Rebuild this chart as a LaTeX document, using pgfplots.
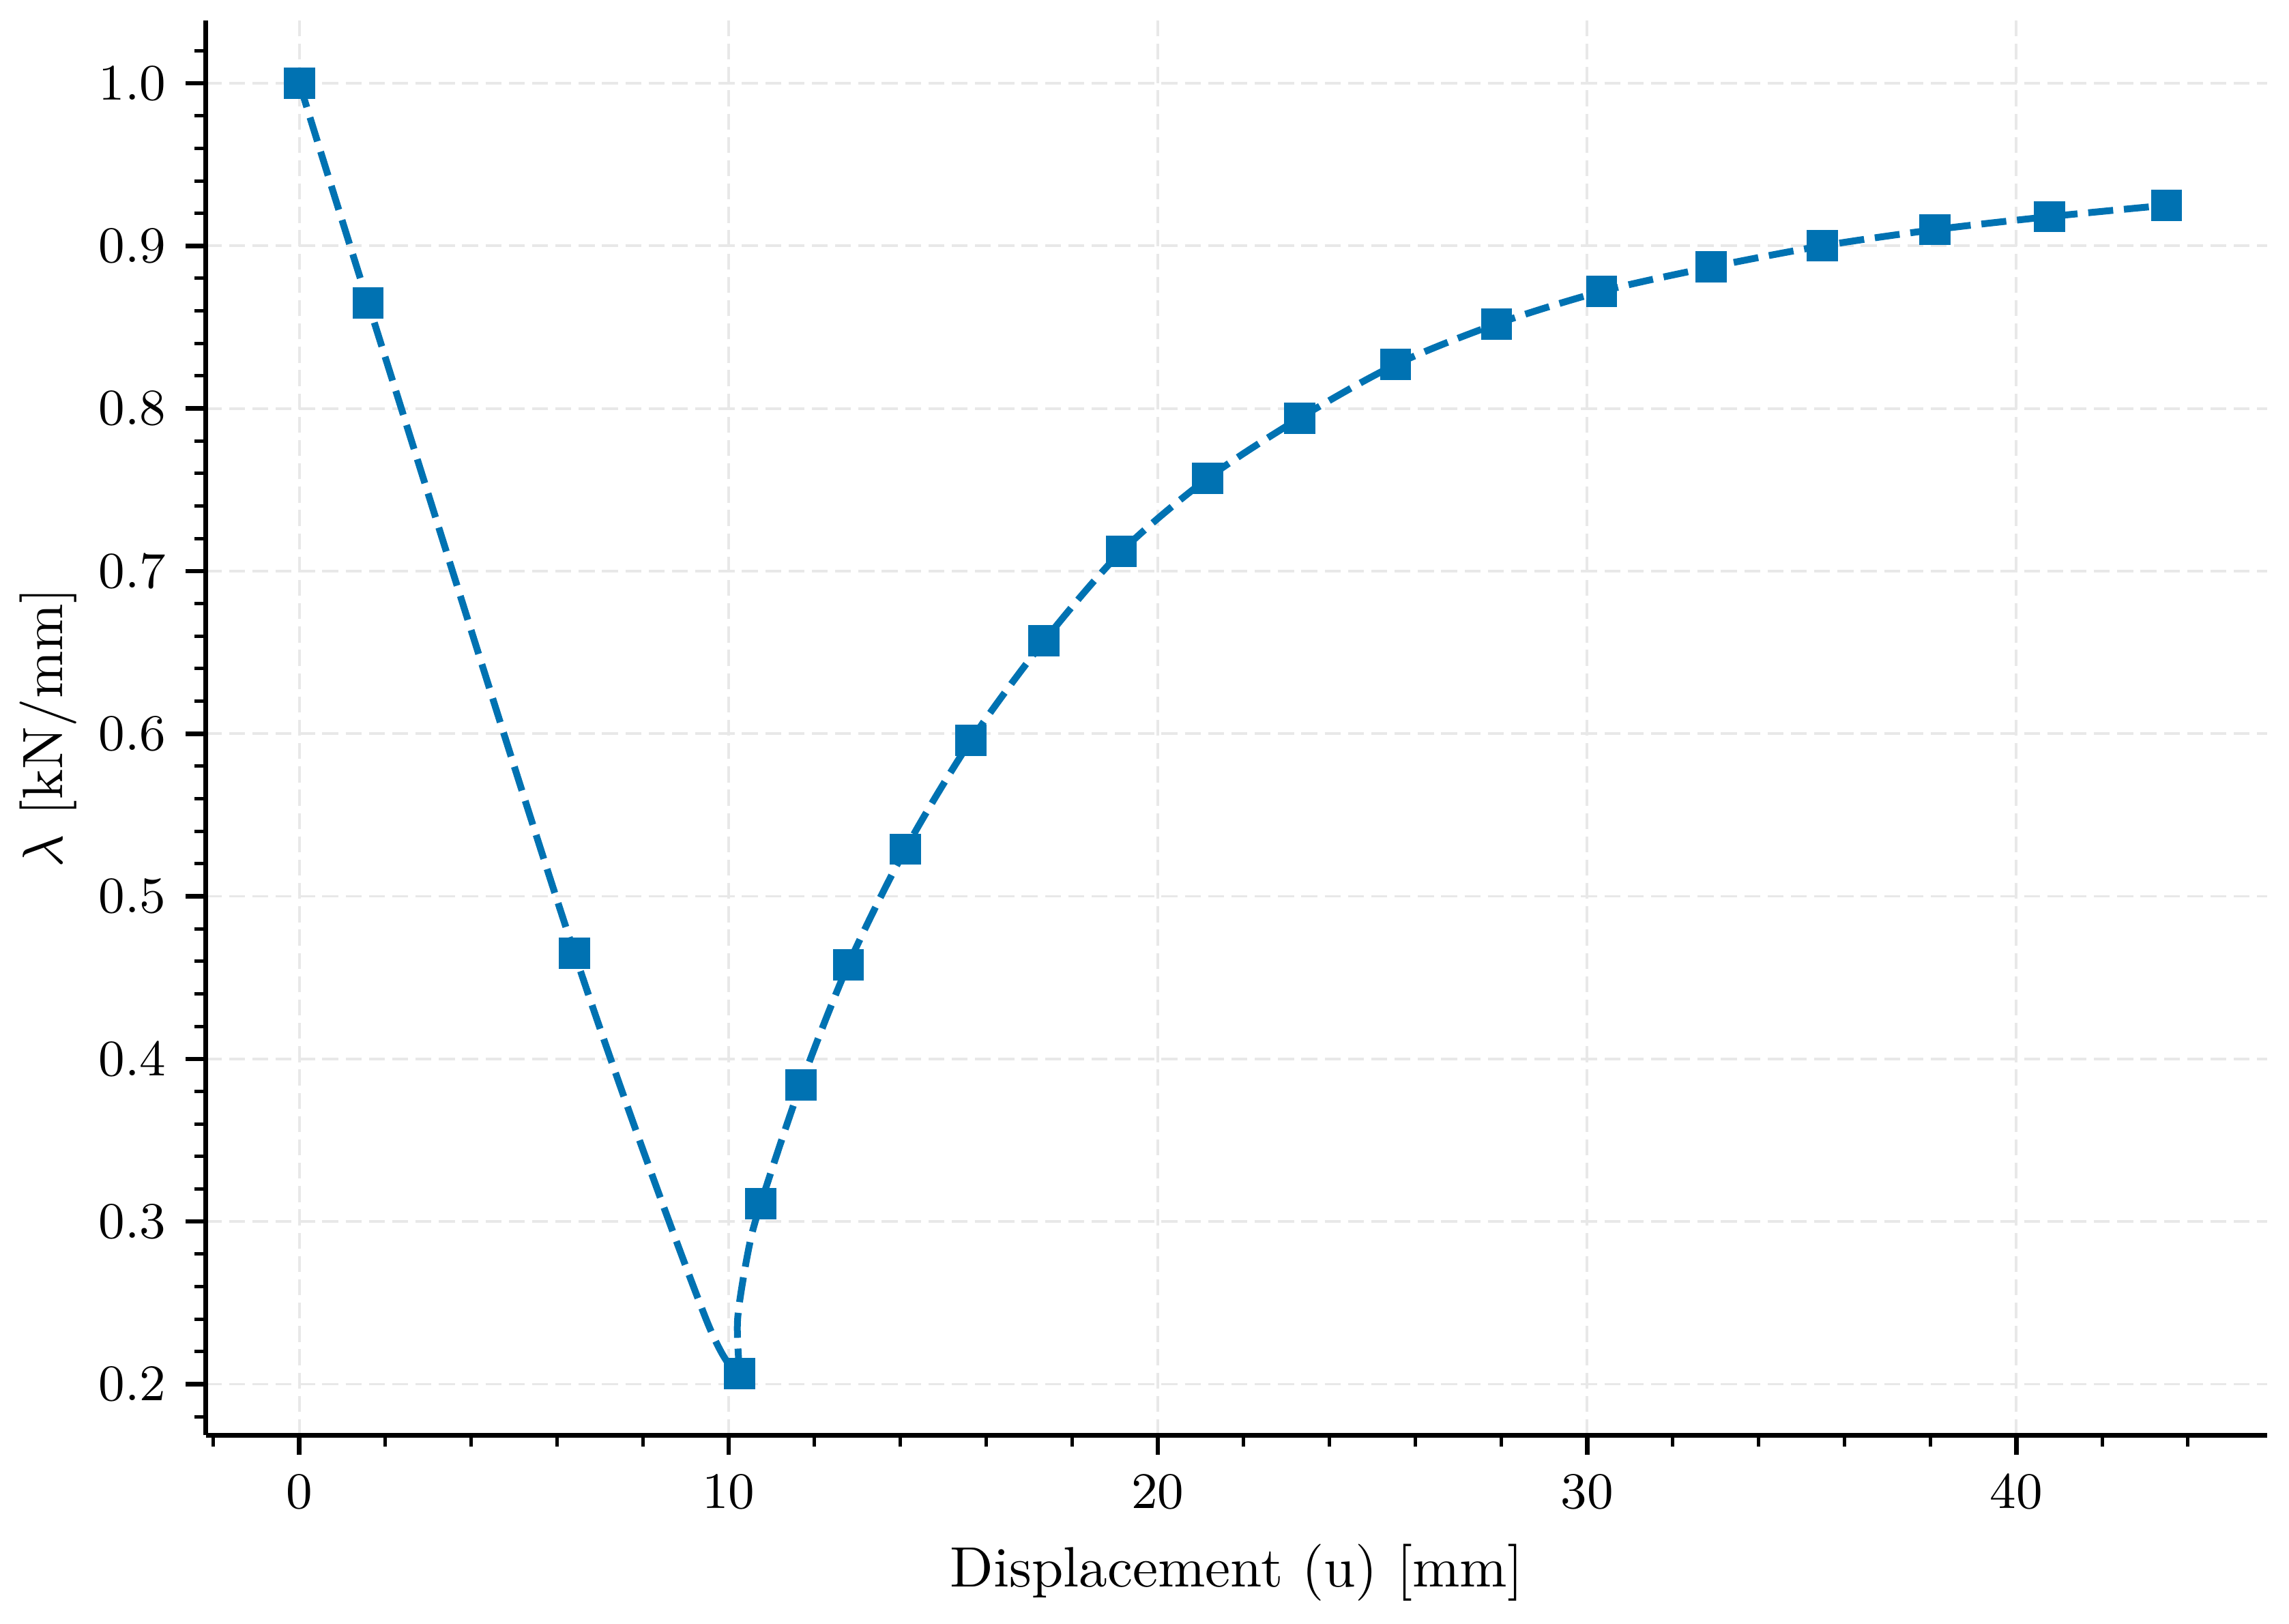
\documentclass[border=0pt]{standalone}
\usepackage{pgfplots}
\usepackage{pgfplotstable}
\pgfplotsset{compat=1.18}

\definecolor{cbblue}{RGB}{0,114,178}
\definecolor{gridgray}{RGB}{232,232,232}

% Converged load steps: load factor against displacement
\pgfplotstableread{
x      y
0.00   1.000
1.60   0.865
6.41   0.465
10.26  0.2065
10.75  0.311
11.68  0.384
12.79  0.458
14.12  0.529
15.65  0.596
17.35  0.657
19.15  0.712
21.16  0.757
23.30  0.794
25.54  0.827
27.89  0.852
30.34  0.872
32.89  0.887
35.48  0.900
38.10  0.910
40.78  0.918
43.50  0.925
}\steps

% Continuous path, pre-limit branch
\pgfplotstableread{
x      y
0.00   1.000
1.60   0.865
6.41   0.465
9.45   0.2416
10.26  0.2065
}\prelimit

% Continuous path, post-limit branch (with the turn just after the limit point)
\pgfplotstableread{
x      y
10.26  0.2065
10.21  0.2400
10.47  0.2836
10.75  0.311
11.68  0.384
12.79  0.458
14.12  0.529
15.65  0.596
17.35  0.657
19.15  0.712
21.16  0.757
23.30  0.794
25.54  0.827
27.89  0.852
30.34  0.872
32.89  0.887
35.48  0.900
38.10  0.910
40.78  0.918
43.50  0.925
}\postlimit

\begin{document}
\begin{tikzpicture}
\begin{axis}[
  scale only axis,
  width=362.6pt, height=248.8pt,
  xmin=-2.18, xmax=45.85,
  ymin=0.1686, ymax=1.0386,
  axis lines*=left,
  axis line style={line width=0.8pt, black},
  tick align=outside,
  major tick length=3.5pt,
  minor tick length=2pt,
  every major tick/.append style={line width=0.8pt, black},
  every minor tick/.append style={line width=0.6pt, black},
  xtick={0,10,20,30,40},
  minor xtick={-2,2,4,6,8,12,14,16,18,22,24,26,28,32,34,36,38,42,44},
  ytick={0.2,0.3,0.4,0.5,0.6,0.7,0.8,0.9,1.0},
  minor ytick={0.18,0.22,0.24,0.26,0.28,0.32,0.34,0.36,0.38,0.42,0.44,0.46,0.48,
               0.52,0.54,0.56,0.58,0.62,0.64,0.66,0.68,0.72,0.74,0.76,0.78,
               0.82,0.84,0.86,0.88,0.92,0.94,0.96,0.98,1.02},
  yticklabel style={/pgf/number format/.cd, fixed, fixed zerofill, precision=1},
  ticklabel style={font=\fontsize{9}{10}\selectfont},
  label style={font=\fontsize{10}{12}\selectfont},
  xlabel={Displacement (u) [mm]},
  ylabel={$\lambda$ [kN/mm]},
  xlabel style={at={(axis description cs:0.5,-0.0973)}, anchor=center},
  ylabel style={at={(axis description cs:-0.0764,0.5)}, anchor=center},
  grid=major,
  major grid style={gridgray, line width=0.45pt, dash pattern=on 2.8pt off 1.3pt},
  clip=false,
]
  \addplot[cbblue, line width=1.2pt, dash pattern=on 4.4pt off 1.9pt, smooth, no marks]
    table[x=x, y=y] {\prelimit};
  \addplot[cbblue, line width=1.2pt, dash pattern=on 4.4pt off 1.9pt, smooth, no marks]
    table[x=x, y=y] {\postlimit};
  \addplot[only marks, mark=square*, mark size=2.6pt,
           mark options={solid, fill=cbblue, draw=cbblue, line width=0.3pt}]
    table[x=x, y=y] {\steps};
\end{axis}
\pgfresetboundingbox
\path[use as bounding box] (-36.2pt,-33.2pt) rectangle (366.4pt,252.4pt);
\end{tikzpicture}
\end{document}
